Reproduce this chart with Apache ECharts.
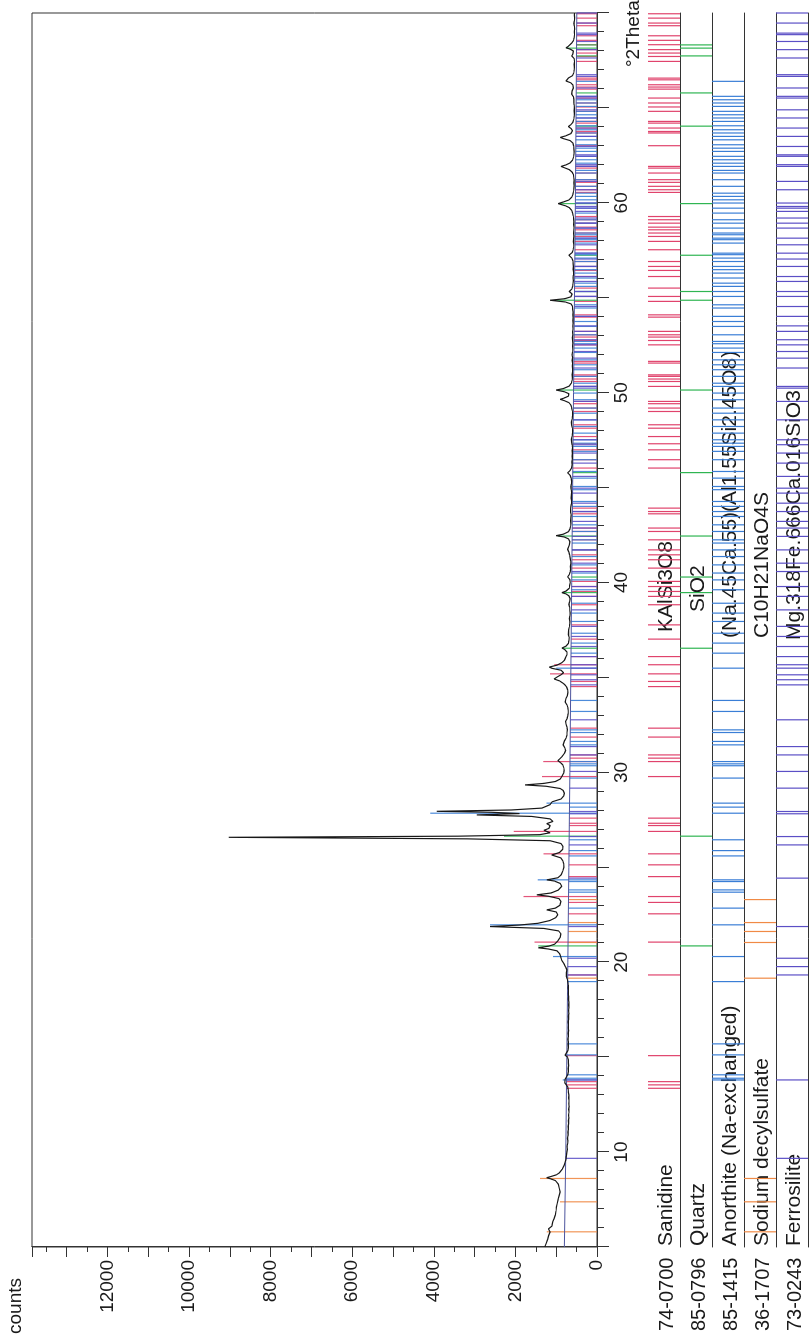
<!DOCTYPE html>
<html>
<head>
<meta charset="utf-8">
<title>XRD pattern</title>
<script src="https://cdn.jsdelivr.net/npm/echarts@6/dist/echarts.min.js"></script>
<style>
  html, body { margin: 0; padding: 0; background: #fff; overflow: hidden; }
  #stage { position: absolute; left: 0; top: 0; width: 812px; height: 1343px; overflow: hidden; background: #fff; }
  /* the plot is laid out landscape and turned a quarter turn to stand on the page */
  #chart { position: absolute; left: 0; top: 0; width: 1343px; height: 812px;
           transform-origin: 0 0; transform: translate(0, 1343px) rotate(-90deg); }
</style>
</head>
<body>
<div id="stage"><div id="chart"></div></div>
<script>
// ---- measured scan: [°2Theta, counts] ----
const scan = [
  [5.0,1280],[5.1,1256],[5.2,1245],[5.3,1222],[5.4,1210],[5.5,1192],[5.6,1185],[5.7,1160],[5.8,1150],[5.9,1165],
  [5.95,1190],[6.0,1150],[6.1,1105],[6.2,1085],[6.3,1090],[6.4,1060],[6.5,1050],[6.6,1035],[6.7,1020],[6.8,1025],
  [6.9,1005],[7.0,1000],[7.1,995],[7.2,985],[7.3,975],[7.4,960],[7.5,955],[7.6,940],[7.7,930],[7.8,915],
  [7.9,905],[8.0,912],[8.1,925],[8.2,930],[8.3,945],[8.4,965],[8.5,1020],[8.58,1120],[8.65,1232],[8.72,1120],
  [8.8,1000],[8.9,925],[9.0,880],[9.1,850],[9.2,830],[9.3,805],[9.45,785],[9.6,762],[9.8,750],[10.0,740],
  [10.15,728],[10.3,735],[10.45,722],[10.6,716],[10.75,724],[10.9,706],[11.05,712],[11.2,700],[11.35,708],[11.5,694],
  [11.65,702],[11.8,690],[11.95,698],[12.1,686],[12.25,694],[12.4,682],[12.55,692],[12.7,686],[12.85,696],[13.0,690],
  [13.15,702],[13.3,708],[13.45,722],[13.55,760],[13.65,790],[13.75,824],[13.85,780],[13.95,735],[14.1,712],[14.25,700],
  [14.4,708],[14.55,696],[14.7,704],[14.85,700],[15.0,722],[15.1,783],[15.2,738],[15.35,714],[15.5,702],[15.65,710],
  [15.8,700],[15.95,712],[16.1,698],[16.25,706],[16.4,694],[16.55,704],[16.7,698],[16.85,706],[17.0,694],[17.15,700],
  [17.3,690],[17.45,698],[17.6,688],[17.75,696],[17.9,690],[18.05,700],[18.2,694],[18.35,704],[18.5,698],[18.65,708],
  [18.8,704],[18.95,716],[19.1,728],[19.25,750],[19.35,783],[19.45,750],[19.6,738],[19.75,770],[19.9,805],[20.1,865],
  [20.3,890],[20.45,915],[20.6,980],[20.7,1200],[20.76,1440],[20.85,1180],[20.95,1040],[21.1,970],[21.3,905],[21.5,885],
  [21.65,940],[21.78,1300],[21.88,2620],[21.96,1900],[22.05,1450],[22.2,1150],[22.35,1010],[22.5,960],[22.65,1000],[22.76,1232],
  [22.85,1020],[23.0,910],[23.2,885],[23.35,930],[23.48,1200],[23.55,1477],[23.65,1120],[23.8,950],[24.0,865],[24.15,900],
  [24.28,1050],[24.34,1232],[24.45,960],[24.6,880],[24.8,840],[25.0,812],[25.2,820],[25.35,840],[25.5,890],[25.65,1110],
  [25.78,920],[25.95,840],[26.1,835],[26.25,880],[26.4,1150],[26.5,3200],[26.58,9026],[26.64,3400],[26.72,1400],[26.82,1150],
  [26.95,1300],[27.05,1180],[27.2,1150],[27.3,1230],[27.42,1080],[27.55,1150],[27.68,1600],[27.76,2950],[27.83,1900],[27.9,2600],
  [27.95,3925],[28.02,2100],[28.12,1350],[28.3,1150],[28.45,1100],[28.6,880],[28.75,820],[28.9,800],[29.05,830],[29.15,900],
  [29.27,1250],[29.34,1763],[29.42,1300],[29.52,1020],[29.65,900],[29.8,860],[29.95,820],[30.1,805],[30.25,815],[30.4,840],
  [30.52,900],[30.62,960],[30.72,910],[30.85,850],[31.0,800],[31.15,770],[31.3,790],[31.45,830],[31.55,860],[31.65,800],
  [31.8,760],[31.95,740],[32.1,735],[32.25,725],[32.4,740],[32.55,760],[32.68,770],[32.8,740],[32.95,720],[33.1,710],
  [33.25,705],[33.4,712],[33.55,735],[33.7,780],[33.8,820],[33.9,760],[34.05,725],[34.2,712],[34.35,720],[34.5,745],
  [34.62,790],[34.72,850],[34.82,920],[34.92,1050],[35.02,980],[35.12,900],[35.25,820],[35.38,880],[35.48,1100],[35.55,1170],
  [35.65,980],[35.78,860],[35.9,800],[36.05,770],[36.2,735],[36.35,740],[36.47,790],[36.55,860],[36.65,760],[36.8,700],
  [36.95,688],[37.1,680],[37.25,700],[37.35,718],[37.5,695],[37.65,680],[37.8,672],[37.95,666],[38.1,676],[38.25,664],
  [38.4,660],[38.55,668],[38.7,672],[38.85,690],[39.0,670],[39.15,660],[39.3,690],[39.4,760],[39.47,860],[39.55,760],
  [39.7,680],[39.85,670],[40.0,656],[40.15,664],[40.3,720],[40.42,680],[40.55,660],[40.7,648],[40.85,652],[41.0,640],
  [41.15,648],[41.3,660],[41.45,670],[41.6,690],[41.75,720],[41.85,700],[42.0,675],[42.15,665],[42.3,700],[42.4,800],
  [42.47,1000],[42.55,820],[42.68,700],[42.82,665],[42.95,650],[43.1,640],[43.25,648],[43.4,640],[43.55,632],[43.7,645],
  [43.85,650],[44.0,640],[44.15,630],[44.3,625],[44.45,635],[44.6,628],[44.75,620],[44.9,632],[45.05,640],[45.2,626],
  [45.35,620],[45.5,635],[45.65,660],[45.78,720],[45.9,660],[46.05,620],[46.2,612],[46.35,618],[46.5,606],[46.65,612],
  [46.8,604],[46.95,612],[47.1,600],[47.25,608],[47.4,620],[47.55,630],[47.7,612],[47.85,604],[48.0,598],[48.15,606],
  [48.3,620],[48.45,630],[48.6,612],[48.75,602],[48.9,598],[49.05,606],[49.2,620],[49.35,640],[49.48,690],[49.58,800],
  [49.65,900],[49.72,800],[49.82,700],[49.95,690],[50.05,800],[50.14,1000],[50.22,820],[50.35,680],[50.5,630],[50.65,612],
  [50.8,604],[50.95,612],[51.1,600],[51.25,596],[51.4,604],[51.55,600],[51.7,608],[51.85,598],[52.0,612],[52.15,600],
  [52.3,594],[52.45,600],[52.6,590],[52.75,598],[52.9,604],[53.05,592],[53.2,600],[53.35,588],[53.5,594],[53.65,586],
  [53.8,592],[53.95,584],[54.1,590],[54.25,586],[54.4,596],[54.55,600],[54.68,640],[54.78,780],[54.87,1150],[54.95,790],
  [55.05,640],[55.2,610],[55.33,680],[55.45,620],[55.6,596],[55.75,588],[55.9,580],[56.05,588],[56.2,580],[56.35,576],
  [56.5,584],[56.65,578],[56.8,586],[56.95,592],[57.1,620],[57.24,690],[57.38,610],[57.5,588],[57.65,576],[57.8,570],
  [57.95,578],[58.1,572],[58.25,566],[58.4,576],[58.55,570],[58.7,564],[58.85,572],[59.0,566],[59.15,574],[59.3,582],
  [59.45,596],[59.6,620],[59.75,680],[59.85,780],[59.96,950],[60.05,820],[60.15,690],[60.3,620],[60.45,590],[60.6,576],
  [60.75,568],[60.9,560],[61.05,566],[61.2,560],[61.35,570],[61.5,580],[61.62,610],[61.75,680],[61.85,800],[61.92,880],
  [62.0,760],[62.1,660],[62.25,600],[62.4,576],[62.55,566],[62.7,560],[62.85,568],[63.0,574],[63.15,590],[63.28,660],
  [63.38,820],[63.45,900],[63.52,780],[63.65,640],[63.8,600],[63.92,640],[64.02,700],[64.12,640],[64.25,590],[64.4,570],
  [64.55,562],[64.7,556],[64.85,562],[65.0,556],[65.15,560],[65.3,570],[65.45,566],[65.6,580],[65.72,620],[65.8,650],
  [65.9,610],[66.05,580],[66.2,590],[66.32,640],[66.42,760],[66.5,800],[66.58,700],[66.7,600],[66.85,570],[67.0,560],
  [67.15,554],[67.3,560],[67.45,552],[67.6,560],[67.74,620],[67.85,590],[68.0,580],[68.1,660],[68.17,760],[68.25,700],
  [68.32,720],[68.42,620],[68.55,576],[68.7,560],[68.85,552],[69.0,558],[69.15,550],[69.3,556],[69.45,566],[69.6,556],
  [69.75,550],[69.9,556],[70.0,552]
];

// fitted background: [°2Theta, counts]
const background = [[5,800],[10,765],[15,740],[20,715],[25,690],[30,665],[40,620],[50,575],[60,530],[70,495]];

// ---- reference stick positions, °2Theta ----
const sanidine = [
  13.36,13.54,13.71,15.08,19.33,21.06,22.55,23.15,23.46,24.51,25.13,25.71,26.89,27.20,27.32,27.59,29.78,30.57,30.75,30.92,
  31.86,32.33,34.52,34.79,35.19,35.67,36.10,37.02,37.77,38.83,39.27,39.53,39.79,40.06,40.76,41.20,41.46,41.72,42.25,42.69,
  42.87,43.62,43.74,43.92,46.03,46.47,46.99,47.31,47.69,48.13,48.31,49.01,49.19,49.42,49.54,50.33,50.59,50.72,50.86,50.94,
  51.56,51.65,52.52,52.75,52.93,53.05,53.23,53.98,54.10,54.81,55.07,55.51,56.12,56.44,56.65,56.91,57.53,57.97,58.23,58.41,
  58.58,58.72,58.93,59.11,59.28,60.55,60.69,60.87,61.08,61.22,61.57,61.83,61.92,63.01,63.68,63.76,63.94,64.20,64.29,64.82,
  65.05,65.26,65.52,65.99,66.10,66.22,66.48,66.57,67.45,67.71,67.89,68.07,68.33,68.56,68.80,69.33,69.47,69.73,69.96
];
const quartz = [
  20.86,26.64,36.54,39.47,40.29,42.45,45.79,50.14,54.87,55.33,57.24,59.96,64.04,65.79,67.74,68.15,68.32
];
const anorthite = [
  13.80,13.89,14.07,15.12,15.70,18.98,20.30,21.97,22.85,23.69,23.81,24.25,24.34,25.60,25.88,26.45,27.85,28.17,28.38,29.70,
  30.35,30.45,30.57,31.45,31.63,32.10,32.24,33.21,33.79,35.49,36.28,36.81,37.33,37.95,38.39,38.91,39.62,40.14,40.50,40.93,
  41.37,41.72,42.08,42.25,42.69,43.04,43.48,43.74,44.01,44.27,44.89,45.06,45.50,45.85,46.47,46.91,47.17,47.34,47.52,47.87,
  48.22,48.57,48.92,49.19,49.63,49.98,50.33,50.50,50.86,51.21,51.47,51.73,52.12,52.35,52.58,52.70,53.05,53.49,53.75,54.02,
  54.46,54.63,55.07,55.33,55.60,55.77,56.04,56.30,56.48,56.65,56.91,57.09,57.27,57.35,57.88,58.06,58.14,58.32,58.41,58.67,
  58.93,59.11,59.46,59.72,59.99,60.16,60.34,60.51,60.87,61.22,61.57,61.71,61.92,62.09,62.27,62.45,62.71,62.88,63.06,63.32,
  63.50,63.68,63.85,64.06,64.29,64.47,64.64,64.82,65.08,65.26,65.43,65.61,66.40
];
const decylsulfate = [5.80,7.38,8.61,19.16,21.04,21.62,22.09,23.30];
const ferrosilite = [
  9.67,13.80,19.33,19.77,20.21,21.88,24.43,26.18,26.62,27.82,27.94,29.17,30.05,30.92,31.36,32.77,34.61,34.88,35.14,35.49,
  35.67,36.10,36.63,37.16,37.69,38.56,39.27,39.79,40.58,41.02,41.72,42.43,42.87,43.22,43.74,44.18,44.71,44.97,45.59,46.29,
  46.82,47.26,47.52,48.57,49.54,50.24,50.33,51.30,51.82,52.17,52.52,52.79,53.23,53.52,54.02,54.54,55.07,55.33,55.86,56.12,
  56.65,57.04,57.35,57.79,58.14,58.67,58.93,59.20,59.55,59.72,59.81,59.99,60.69,61.13,61.92,62.01,62.45,62.53,62.97,63.50,
  63.94,64.47,64.90,65.52,65.61,66.05,66.66,66.75,67.63,68.07,68.50,68.86,68.94,69.47,70.00
];

// sticks that reach above the background in the scan panel: [°2Theta, counts]
const sanidineStrong = [[21.06,1530],[23.46,1800],[25.71,1310],[26.89,2040],[29.78,1350],[30.57,1320],[35.19,1150],[35.67,1050]];
const quartzStrong = [[20.86,1440],[26.64,2280],[36.54,850],[39.47,850],[42.45,950],[50.14,950],[54.87,1000],[59.96,900],[68.15,750]];
const anorthiteStrong = [[13.80,840],[15.12,780],[20.30,1080],[21.97,2620],[24.34,1450],[27.85,4090],[28.38,1240],[35.49,1000]];
const decylsulfateStrong = [[5.80,1230],[7.38,905],[8.61,1395]];
const ferrosiliteStrong = [];

// axis tick labels
const countTicks = [0,2000,4000,6000,8000,10000,12000];
const thetaTicks = [10,20,30,40,50,60];

const phases = [
  { id: '74-0700', name: 'Sanidine', formula: 'KAlSi3O8', color: '#e0436c', lines: sanidine, strong: sanidineStrong, fx: 711 },
  { id: '85-0796', name: 'Quartz', formula: 'SiO2', color: '#2fb552', lines: quartz, strong: quartzStrong, fx: 731 },
  { id: '85-1415', name: 'Anorthite (Na-exchanged)', formula: '(Na.45Ca.55)(Al1.55Si2.45O8)', color: '#3a7ed6', lines: anorthite, strong: anorthiteStrong, fx: 705 },
  { id: '36-1707', name: 'Sodium decylsulfate', formula: 'C10H21NaO4S', color: '#f08a45', lines: decylsulfate, strong: decylsulfateStrong, fx: 705 },
  { id: '73-0243', name: 'Ferrosilite', formula: 'Mg.318Fe.666Ca.016SiO3', color: '#5b4fc6', lines: ferrosilite, strong: ferrosiliteStrong, fx: 703 }
];

// ---- layout (landscape frame, 1343 x 812) ----
const PLOT_L = 96, PLOT_R = 13, PLOT_T = 32, PLOT_H = 565;
const STRIP_T = 648, STRIP_H = 32;
const FONT = "'Liberation Sans', Arial, sans-serif";
const INK = '#1a1a1a';
const FRAME = '#333';

// background level under a stick (weak sticks stop there)
function backgroundAt(t) {
  for (let i = 1; i < background.length; i++) {
    const a = background[i - 1], b = background[i];
    if (t <= b[0]) return a[1] + (b[1] - a[1]) * (t - a[0]) / (b[0] - a[0]);
  }
  return background[background.length - 1][1];
}

// vertical sticks as broken polylines: base -> top, then a gap
function stickData(list) {
  const out = [];
  list.forEach(function (s) { out.push([s[0], s[1]], [s[0], s[2]], [s[0], '-']); });
  return out;
}

const chart = echarts.init(document.getElementById('chart'), null, { renderer: 'canvas', devicePixelRatio: 1 });

const grids = [{ left: PLOT_L, right: PLOT_R, top: PLOT_T, height: PLOT_H, show: true, borderColor: FRAME, borderWidth: 1 }];
const xAxes = [{
  type: 'value', gridIndex: 0, min: 5, max: 70, interval: 5, position: 'bottom',
  axisLine: { show: true, onZero: false, lineStyle: { color: FRAME, width: 1 } },
  axisTick: { show: true, length: 12, lineStyle: { color: FRAME } },
  minorTick: { show: true, splitNumber: 5, length: 7, lineStyle: { color: FRAME } },
  splitLine: { show: false }, minorSplitLine: { show: false },
  axisLabel: { margin: 15, fontSize: 19, color: INK, fontFamily: FONT,
               formatter: v => thetaTicks.indexOf(v) >= 0 ? String(v) : '' }
}];
const yAxes = [{
  type: 'value', gridIndex: 0, min: 0, max: 13850, interval: 1000,
  axisLine: { show: true, onZero: false, lineStyle: { color: FRAME, width: 1 } },
  axisTick: { show: true, length: 10, lineStyle: { color: FRAME } },
  minorTick: { show: true, splitNumber: 2, length: 5, lineStyle: { color: FRAME } },
  splitLine: { show: false }, minorSplitLine: { show: false },
  axisLabel: { margin: 13, fontSize: 19, color: INK, fontFamily: FONT,
               formatter: v => countTicks.indexOf(v) >= 0 ? String(v) : '' }
}];

const series = [];
function lineSeries(data, color, gi, width, z, opacity) {
  return { type: 'line', xAxisIndex: gi, yAxisIndex: gi, data: data, showSymbol: false, symbol: 'none',
           connectNulls: false, silent: true, z: z, animation: false,
           lineStyle: { color: color, width: width, opacity: opacity === undefined ? 1 : opacity } };
}

phases.forEach(function (ph, i) {
  // sticks in the scan panel, from zero up to the background or to their own height
  const tall = {};
  ph.strong.forEach(s => { tall[s[0]] = s[1]; });
  const sticks = ph.lines.map(p => [p, 0, tall[p] !== undefined ? tall[p] : backgroundAt(p)]);
  series.push(lineSeries(stickData(sticks), ph.color, 0, 1.2, 2, 0.9));

  // one strip per reference pattern
  const gi = i + 1;
  grids.push({ left: PLOT_L, right: PLOT_R, top: STRIP_T + STRIP_H * i, height: STRIP_H });
  xAxes.push({ type: 'value', gridIndex: gi, min: 5, max: 70,
               axisLine: { show: true, onZero: false, lineStyle: { color: FRAME, width: 1 } },
               axisTick: { show: false }, axisLabel: { show: false }, splitLine: { show: false } });
  yAxes.push({ type: 'value', gridIndex: gi, min: 0, max: 1, show: false });
  series.push(lineSeries(stickData(ph.lines.map(p => [p, 0, 1])), ph.color, gi, 1.2, 2, 1));
});

// background curve and measured scan on top
series.push(lineSeries(background, '#4d559e', 0, 1, 3));
series.push(lineSeries(scan, '#181818', 0, 1.2, 5));

// text: axis names and pattern captions
const graphics = [
  { type: 'text', left: 9, top: 6, style: { text: 'counts', font: "19px " + FONT, fill: INK } },
  { type: 'text', left: 1276, top: 624, style: { text: '°2Theta', font: "19px " + FONT, fill: INK } }
];
phases.forEach(function (ph, i) {
  const base = STRIP_T + STRIP_H * (i + 1);
  graphics.push({ type: 'text', left: 12, top: base - 23, style: { text: ph.id, font: "20px " + FONT, fill: INK } });
  graphics.push({ type: 'text', left: PLOT_L + 1, top: base - 24, style: { text: ph.name, font: "21px " + FONT, fill: INK } });
  graphics.push({ type: 'text', left: ph.fx, top: base - 24, style: { text: ph.formula, font: "21px " + FONT, fill: INK } });
});

chart.setOption({
  animation: false,
  backgroundColor: '#fff',
  grid: grids,
  xAxis: xAxes,
  yAxis: yAxes,
  series: series,
  graphic: graphics
});
</script>
</body>
</html>
